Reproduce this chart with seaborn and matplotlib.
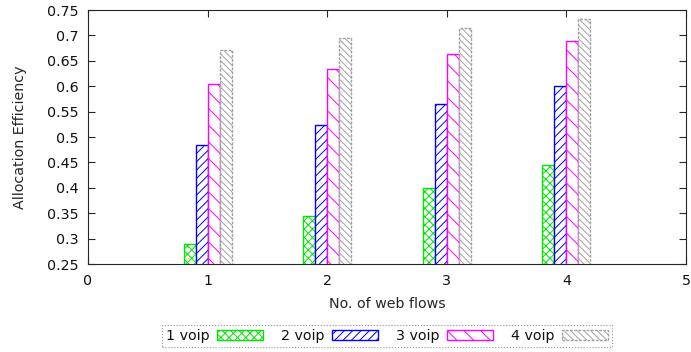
import numpy as np
import pandas as pd
import matplotlib
matplotlib.use("Agg")
import matplotlib.pyplot as plt
import seaborn as sns
from matplotlib.patches import Patch

# datos
web_flows = [1, 2, 3, 4]
series = ["1 voip", "2 voip", "3 voip", "4 voip"]
eff_1voip = [0.289, 0.344, 0.399, 0.445]
eff_2voip = [0.484, 0.523, 0.565, 0.600]
eff_3voip = [0.604, 0.634, 0.663, 0.688]
eff_4voip = [0.671, 0.694, 0.714, 0.732]

colores = ["#00e600", "#0000ff", "#ff00ff", "#a0a0a0"]
tramas = ["xxxx", "////", "\\\\", "\\\\\\\\\\"]

df = pd.DataFrame({
    "flows": web_flows * 4,
    "voip": np.repeat(series, len(web_flows)),
    "eff": eff_1voip + eff_2voip + eff_3voip + eff_4voip,
})

sns.set_style("ticks")
plt.rcParams["font.family"] = ["DejaVu Sans"]
plt.rcParams["font.size"] = 10.3
plt.rcParams["hatch.linewidth"] = 0.7
plt.rcParams["text.color"] = "#111111"

fig = plt.figure(figsize=(6.91, 3.52), dpi=100)
ax = fig.add_axes([88 / 691, 1 - 264 / 352, (686 - 88) / 691, (264 - 10) / 352])

sns.barplot(data=df, x="flows", y="eff", hue="voip", hue_order=series,
            native_scale=True, width=0.4, errorbar=None, legend=False,
            fill=True, ax=ax)

for cont, col, h in zip(ax.containers, colores, tramas):
    for bar in cont:
        bar.set_facecolor("white")
        bar.set_edgecolor(col)
        bar.set_hatch(h)
        bar.set_linewidth(1.0)
        if col == "#a0a0a0":
            bar.set_linestyle((0, (2, 1)))

ax.set_xlim(0, 5)
ax.set_ylim(0.25, 0.75)
ax.set_xticks([0, 1, 2, 3, 4, 5])
ax.set_xticklabels(["0", "1", "2", "3", "4", "5"])
ax.set_yticks(np.arange(0.25, 0.751, 0.05))
ax.set_yticklabels(["0.25", "0.3", "0.35", "0.4", "0.45", "0.5", "0.55",
                    "0.6", "0.65", "0.7", "0.75"])
ax.tick_params(direction="in", length=5, top=True, right=True, labelsize=10.3,
               width=0.8, pad=7, labelcolor="#111111")
for s in ax.spines.values():
    s.set_visible(True)
    s.set_linewidth(0.8)
ax.set_xlabel("No. of web flows", fontsize=10.3, labelpad=7)
ax.set_ylabel("Allocation Efficiency", fontsize=10.3, labelpad=14)

handles = []
for col, h in zip(colores, tramas):
    handles.append(Patch(facecolor="white", edgecolor=col, hatch=h, linewidth=1.0,
                         linestyle=(0, (2, 1)) if col == "#a0a0a0" else "-"))
leg = fig.legend(handles, series, loc="center", bbox_to_anchor=(387 / 691, 1 - 336 / 352),
                 ncol=4, frameon=True, fancybox=False, markerfirst=False,
                 handlelength=3.2, handleheight=0.65, columnspacing=1.25,
                 handletextpad=0.55, borderpad=0.25, fontsize=10.3)
leg.get_frame().set_linestyle(":")
leg.get_frame().set_edgecolor("#777777")
leg.get_frame().set_linewidth(0.8)

plt.savefig("out.png", dpi=100)
